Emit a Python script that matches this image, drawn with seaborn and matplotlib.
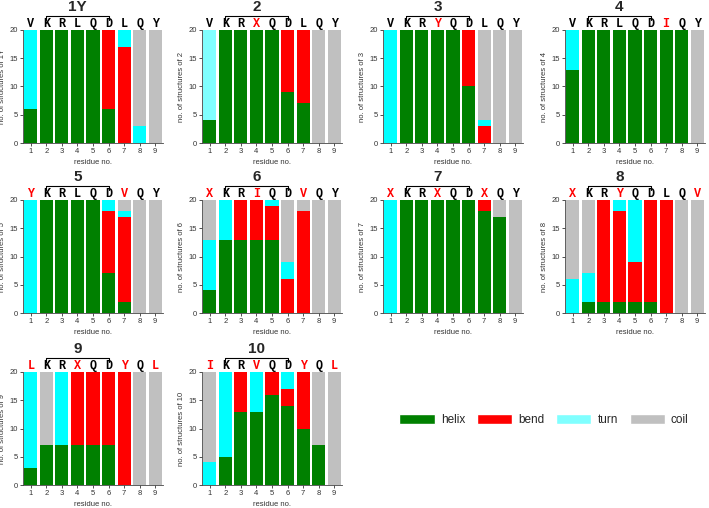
import matplotlib
matplotlib.use('Agg')
import matplotlib.pyplot as plt
import matplotlib.transforms as mtransforms
from matplotlib.patches import Patch
import numpy as np
import pandas as pd
import seaborn as sns

# --- data ---
residues = [1, 2, 3, 4, 5, 6, 7, 8, 9]
peptides = ['1Y', '2', '3', '4', '5', '6', '7', '8', '9', '10']

sequences = {
    '1Y': 'VKRLQDLQY', '2': 'VKRXQDLQY', '3': 'VKRYQDLQY', '4': 'VKRLQDIQY',
    '5': 'YKRLQDVQY', '6': 'XKRIQDVQY', '7': 'XKRXQDXQY', '8': 'XKRYQDLQV',
    '9': 'LKRXQDYQL', '10': 'IKRVQDYQL',
}
# residue positions (1-based) printed in red
mutated = {
    '1Y': [], '2': [4], '3': [4], '4': [7], '5': [1, 7], '6': [1, 4, 7],
    '7': [1, 4, 7], '8': [1, 4, 9], '9': [1, 4, 7, 9], '10': [1, 4, 7, 9],
}

helix = {
    '1Y': [6, 20, 20, 20, 20, 6, 0, 0, 0],
    '2':  [4, 20, 20, 20, 20, 9, 7, 0, 0],
    '3':  [0, 20, 20, 20, 20, 10, 0, 0, 0],
    '4':  [13, 20, 20, 20, 20, 20, 20, 20, 0],
    '5':  [0, 20, 20, 20, 20, 7, 2, 0, 0],
    '6':  [4, 13, 13, 13, 13, 0, 0, 0, 0],
    '7':  [0, 20, 20, 20, 20, 20, 18, 17, 0],
    '8':  [0, 2, 2, 2, 2, 2, 0, 0, 0],
    '9':  [3, 7, 7, 7, 7, 7, 0, 0, 0],
    '10': [0, 5, 13, 13, 16, 14, 10, 7, 0],
}
bend = {
    '1Y': [0, 0, 0, 0, 0, 14, 17, 0, 0],
    '2':  [0, 0, 0, 0, 0, 11, 13, 0, 0],
    '3':  [0, 0, 0, 0, 0, 10, 3, 0, 0],
    '4':  [0, 0, 0, 0, 0, 0, 0, 0, 0],
    '5':  [0, 0, 0, 0, 0, 11, 15, 0, 0],
    '6':  [0, 0, 7, 7, 6, 6, 18, 0, 0],
    '7':  [0, 0, 0, 0, 0, 0, 2, 0, 0],
    '8':  [0, 0, 18, 16, 7, 18, 20, 0, 0],
    '9':  [0, 0, 0, 13, 13, 13, 20, 0, 0],
    '10': [0, 0, 7, 0, 4, 3, 10, 0, 0],
}
turn = {
    '1Y': [14, 0, 0, 0, 0, 0, 3, 3, 0],
    '2':  [16, 0, 0, 0, 0, 0, 0, 0, 0],
    '3':  [20, 0, 0, 0, 0, 0, 1, 0, 0],
    '4':  [7, 0, 0, 0, 0, 0, 0, 0, 0],
    '5':  [20, 0, 0, 0, 0, 2, 1, 0, 0],
    '6':  [9, 7, 0, 0, 1, 3, 0, 0, 0],
    '7':  [20, 0, 0, 0, 0, 0, 0, 0, 0],
    '8':  [6, 5, 0, 2, 11, 0, 0, 0, 0],
    '9':  [17, 0, 13, 0, 0, 0, 0, 0, 0],
    '10': [4, 15, 0, 7, 0, 3, 0, 0, 0],
}
coil = {
    '1Y': [0, 0, 0, 0, 0, 0, 0, 17, 20],
    '2':  [0, 0, 0, 0, 0, 0, 0, 20, 20],
    '3':  [0, 0, 0, 0, 0, 0, 16, 20, 20],
    '4':  [0, 0, 0, 0, 0, 0, 0, 0, 20],
    '5':  [0, 0, 0, 0, 0, 0, 2, 20, 20],
    '6':  [7, 0, 0, 0, 0, 11, 2, 20, 20],
    '7':  [0, 0, 0, 0, 0, 0, 0, 3, 20],
    '8':  [14, 13, 0, 0, 0, 0, 0, 20, 20],
    '9':  [0, 13, 0, 0, 0, 0, 0, 20, 20],
    '10': [16, 0, 0, 0, 0, 0, 0, 13, 20],
}

# --- style ---
C_HELIX = '#008000'
C_BEND = '#FF0000'
C_TURN = '#00FFFF'
C_TURN_LIGHT = '#80FFFF'
C_COIL = '#C0C0C0'

sns.set_style('ticks')
plt.rcParams['font.family'] = ['Liberation Sans', 'DejaVu Sans']

W, H = 709, 508
fig = plt.figure(figsize=(W / 100, H / 100), dpi=100)

col_left = [23, 202, 383, 565]
row_top = [30, 200, 372]
ax_w, ax_h = 140, 113


def draw_panel(ax, name):
    h = np.array(helix[name])
    b = np.array(bend[name])
    t = np.array(turn[name])
    c = np.array(coil[name])
    df = pd.DataFrame({
        'residue': residues,
        'helix': h,
        'bend': h + b,
        'turn': h + b + t,
        'coil': h + b + t + c,
    })
    turn_col = C_TURN_LIGHT if name == '2' else C_TURN
    # stacked bars: draw cumulative totals from the top layer down
    for col, color in [('coil', C_COIL), ('turn', turn_col),
                       ('bend', C_BEND), ('helix', C_HELIX)]:
        sns.barplot(data=df, x='residue', y=col, color=color, saturation=1,
                    native_scale=True, width=0.84, linewidth=0, ax=ax)

    ax.set_xlim(0.5, 9.5)
    ax.set_ylim(0, 20)
    ax.set_xticks(residues)
    ax.set_yticks([0, 5, 10, 15, 20])
    ax.tick_params(labelsize=5.5, length=2.5, width=0.6, pad=1, colors='#333333')
    ax.set_xlabel('residue no.', fontsize=5.5, labelpad=3, color='#333333')
    ax.set_ylabel(f'no. of structures of {name}', fontsize=5.5, color='#333333')
    ax.yaxis.set_label_coords(-0.12, 0.5)
    for s in ['top', 'right']:
        ax.spines[s].set_visible(False)
    for s in ['left', 'bottom']:
        ax.spines[s].set_linewidth(0.6)
        ax.spines[s].set_color('#444444')

    trans = mtransforms.blended_transform_factory(ax.transData, ax.transAxes)
    seq = sequences[name]
    for i, letter in enumerate(seq):
        pos = i + 1
        color = 'red' if pos in mutated[name] else 'black'
        ax.text(pos, 1.055, letter, transform=trans, ha='center', va='center',
                fontsize=8.5, fontweight='bold', family='Liberation Mono',
                color=color, clip_on=False)
    ax.plot([2, 2, 6, 6], [1.09, 1.125, 1.125, 1.09], transform=trans,
            color='black', lw=0.8, clip_on=False)
    ax.text(4, 1.2, name, transform=trans, ha='center', va='center',
            fontsize=11, fontweight='bold', clip_on=False)


for k, name in enumerate(peptides):
    r, cidx = divmod(k, 4)
    left = col_left[cidx] / W
    bottom = 1 - (row_top[r] + ax_h) / H
    ax = fig.add_axes([left, bottom, ax_w / W, ax_h / H])
    draw_panel(ax, name)

handles = [Patch(facecolor=C_HELIX, label='helix'),
           Patch(facecolor=C_BEND, label='bend'),
           Patch(facecolor=C_TURN_LIGHT, label='turn'),
           Patch(facecolor=C_COIL, label='coil')]
fig.legend(handles=handles, loc='center', bbox_to_anchor=(544 / W, 1 - 420 / H),
           ncol=4, frameon=False, fontsize=8.5, handlelength=3.0, handleheight=0.9,
           handletextpad=0.5, columnspacing=1.0)

fig.savefig('out.png', dpi=100)
